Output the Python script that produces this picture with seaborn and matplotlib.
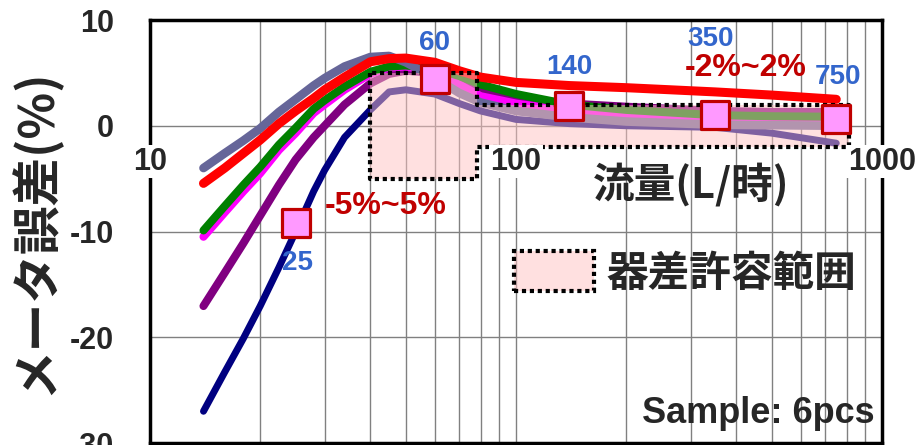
import numpy as np
import pandas as pd
import matplotlib
matplotlib.use("Agg")
import matplotlib.pyplot as plt
import seaborn as sns
from matplotlib.patches import Patch
from matplotlib.ticker import LogLocator, NullFormatter

# ---------------- data ----------------
flow = [14, 16, 18, 20, 22.5, 25, 28, 30, 34, 40, 45, 50, 60, 70, 80, 100, 140, 200, 350, 500, 750]
err_navy    = [-27.0, -23.3, -20.1, -17.05, -13.4, -10.0, -6.2, -4.2, -1.1, 1.5, 3.2, 3.4, 3.0, 2.1, 1.4, 0.6, 0.2, 0.0, -0.15, -0.7, -1.65]
err_purple  = [-17.05, -13.9, -11.1, -8.5, -5.6, -3.2, -1.1, 0.0, 2.0, 4.0, 4.9, 5.2, 5.0, 4.3, 3.4, 2.6, 2.1, 1.8, 1.4, 1.3, 1.3]
err_magenta = [-10.5, -8.2, -6.2, -4.5, -2.3, -0.7, 1.2, 2.0, 3.4, 4.9, 5.5, 5.6, 5.1, 3.9, 2.8, 2.1, 1.4, 1.0, 0.6, 0.5, 0.45]
err_green   = [-9.9, -7.6, -5.6, -3.9, -1.8, -0.2, 1.6, 2.4, 3.7, 5.1, 5.6, 5.7, 5.4, 4.7, 3.9, 3.0, 2.0, 1.5, 1.0, 0.9, 0.85]
err_slate   = [-4.0, -2.6, -1.4, -0.25, 1.3, 2.5, 3.8, 4.5, 5.6, 6.5, 6.6, 6.0, 4.5, 3.1, 2.2, 1.4, 0.8, 0.4, 0.1, 0.05, 0.0]
err_red     = [-5.45, -4.0, -2.6, -1.35, 0.2, 1.4, 2.6, 3.4, 4.6, 6.05, 6.35, 6.4, 6.0, 5.2, 4.6, 4.1, 3.8, 3.6, 3.2, 2.9, 2.5]

test_flow = [25, 60, 140, 350, 750]
test_err = [-9.2, 4.4, 1.9, 1.0, 0.65]
test_labels = ["25", "60", "140", "350", "750"]

tol_flow = [40, 78, 78, 810]
tol_low = [-5, -5, -2, -2]
tol_high = [5, 5, 2, 2]
tol_texts = ["-5%~5%", "-2%~2%"]

x_ticks = [10, 100, 1000]
x_ticklabels = ["10", "100", "1000"]
y_ticks = [-30, -20, -10, 0, 10]
y_ticklabels = ["-30", "-20", "-10", "0", "10"]
x_title = "流量(L/時)"
y_title = "メータ誤差(%)"
legend_label = "器差許容範囲"
note = "Sample: 6pcs"

# ---------------- plot ----------------
sns.set_theme(style="white")
plt.rcParams['font.family'] = ['Liberation Sans', 'Noto Sans CJK JP', 'DejaVu Sans']
cjk = ['Noto Sans CJK JP', 'DejaVu Sans']

fig = plt.figure(figsize=(9.17, 4.45), dpi=100)
ax = fig.add_axes([150/917, 2/445, 732/917, 423/445])

series = [
    (err_navy, "#000080", 5.0, 3),
    (err_purple, "#800080", 5.8, 3.1),
    (err_magenta, "#ff00ff", 5.8, 3.2),
    (err_green, "#008000", 5.8, 3.3),
    (err_slate, "#666699", 6.2, 3.4),
    (err_red, "#ff0000", 6.5, 3.5),
]
for vals, color, lw, z in series:
    df = pd.DataFrame({"flow": flow, "err": vals})
    sns.lineplot(data=df, x="flow", y="err", color=color, linewidth=lw, ax=ax,
                 estimator=None, zorder=z)
    ln = ax.lines[-1]
    ln.set_linewidth(lw)
    ln.set_solid_capstyle('round')
    ln.set_solid_joinstyle('round')

pink = (1.0, 0.765, 0.765, 0.5)
ax.fill_between(tol_flow, tol_low, tol_high, facecolor=pink, edgecolor='black',
                linestyle=(0, (1, 0.9)), linewidth=3, zorder=5)

sns.scatterplot(x=test_flow, y=test_err, marker='s', s=385, color='#ff99ff',
                edgecolor='#c00000', linewidth=2.3, ax=ax, zorder=10)

offsets = [(1, -29), (0, 26), (0, 28), (-3, 55), (1, 30)]
for f, e, lab, off in zip(test_flow, test_err, test_labels, offsets):
    ax.annotate(lab, (f, e), xytext=off, textcoords='offset points', ha='center', va='center',
                fontsize=20, fontweight='bold', color='#3366cc', zorder=11)

ax.text(44, -7.6, tol_texts[0], ha='center', va='center', fontsize=23, fontweight='bold', color='#c00000', zorder=11)
ax.text(424, 5.45, tol_texts[1], ha='center', va='center', fontsize=23, fontweight='bold', color='#c00000', zorder=11)

ax.set_xscale('log')
ax.set_xlim(10, 1000)
ax.set_ylim(-30, 10)
ax.set_xticks(x_ticks)
ax.xaxis.set_minor_locator(LogLocator(base=10, subs=range(2, 10)))
ax.tick_params(axis='x', which='both', length=0, labelbottom=False)
ax.set_yticks(y_ticks)
ax.set_yticklabels(y_ticklabels, fontsize=22, fontweight='bold')
ax.tick_params(axis='y', length=0, pad=26)
ax.grid(True, which='both', axis='x', color='#808080', lw=1)
ax.grid(True, which='major', axis='y', color='#808080', lw=1)
ax.set_axisbelow(True)
for s in ax.spines.values():
    s.set_color('black')
    s.set_linewidth(2.5)
    s.set_visible(True)

sec = ax.secondary_xaxis(0.75)
sec.set_xticks(x_ticks)
sec.set_xticklabels(x_ticklabels, fontsize=22, fontweight='bold')
sec.xaxis.set_minor_formatter(NullFormatter())
sec.tick_params(axis='x', which='both', length=0, pad=15,
                top=False, labeltop=False, bottom=True, labelbottom=True)
for sp in sec.spines.values():
    sp.set_visible(False)
for t in sec.get_xticklabels():
    t.set_bbox(dict(facecolor='white', edgecolor='none', pad=1))
sec.set_zorder(20)

ax.set_xlabel(x_title, fontsize=30, fontweight='bold', family=cjk)
ax.xaxis.set_label_coords(0.739, 0.662)
ax.set_ylabel(y_title, fontsize=35, fontweight='bold', family=cjk)
ax.yaxis.set_label_coords(-0.122, 0.5)

handle = Patch(facecolor=pink, edgecolor='black', linestyle=(0, (1, 0.9)), linewidth=3)
ax.legend([handle], [legend_label], loc='center', bbox_to_anchor=(0.731, 0.402),
          frameon=False, handlelength=1.9, handleheight=1.1, handletextpad=0.3,
          prop={'family': cjk, 'weight': 'bold', 'size': 30})

ax.text(0.99, 0.069, note, transform=ax.transAxes, ha='right', va='center',
        fontsize=26, fontweight='bold', zorder=11)

fig.savefig("out.png", dpi=100)
